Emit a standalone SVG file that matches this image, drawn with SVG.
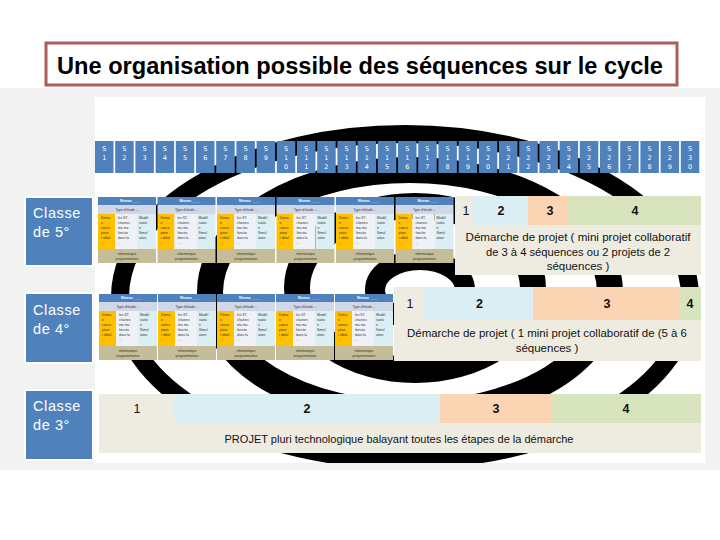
<svg xmlns="http://www.w3.org/2000/svg" xmlns:xlink="http://www.w3.org/1999/xlink" width="720" height="540" viewBox="0 0 720 540">
<style>
.sbox{fill:#4f81bd}
.stxt{fill:#fff;font-family:"DejaVu Sans",sans-serif;font-size:6.5px;text-anchor:middle}
.cls{fill:#4f81bd;stroke:#fff;stroke-width:2}
.clst{fill:#fff;font-family:"Liberation Sans",Arial,sans-serif;font-size:14.5px;letter-spacing:0.6px}
.tiny{font-family:"Liberation Sans",Arial,sans-serif;font-size:3.4px;fill:#333}
.tinyw{font-family:"Liberation Sans",Arial,sans-serif;font-size:3.6px;fill:#fff;font-weight:bold}
.num{font-family:"Liberation Sans",Arial,sans-serif;font-size:12.5px;fill:#111;text-anchor:middle}
.numb{font-family:"Liberation Sans",Arial,sans-serif;font-size:12.5px;fill:#111;text-anchor:middle;font-weight:bold}
.ptxt{font-family:"Liberation Sans",Arial,sans-serif;font-size:11.5px;fill:#111;text-anchor:middle}
.beige{fill:#eeece1}
.lblue{fill:#dbeef4}
.peach{fill:#fbd4b4}
.green{fill:#d7e4bd}
.ring{fill:none;stroke:#000}
</style>
<defs>
<clipPath id="panelClip"><rect x="95" y="97" width="610" height="366"/></clipPath>
<g id="unit">
<rect x="0" y="0" width="58" height="8" fill="#4f81bd"/>
<text class="tinyw" x="22" y="5.3">Niveau ____</text>
<rect x="0" y="8" width="58" height="9" fill="#d0d8e8"/>
<text class="tiny" x="29" y="13.8" text-anchor="middle">Type d'étude ...</text>
<rect x="0" y="17" width="17" height="35" fill="#ffc000"/>
<rect x="17" y="17" width="22" height="35" fill="#eef2f7"/>
<rect x="39" y="17" width="19" height="35" fill="#dbeef4"/>
<g class="tiny">
<text x="3" y="22">Dema</text><text x="3" y="27">e</text><text x="3" y="32">conce</text><text x="3" y="37">ption</text><text x="3" y="42">r idéal</text><text x="3" y="47">...</text>
<text x="20" y="22">les ST.</text><text x="20" y="27">chaines</text><text x="20" y="32">ma ma</text><text x="20" y="37">fonctio</text><text x="20" y="42">dans la</text><text x="20" y="47">... </text>
<text x="41" y="22">Modél</text><text x="41" y="27">isatio</text><text x="41" y="32">n</text><text x="41" y="37">Simul</text><text x="41" y="42">ation</text>
</g>
<rect x="0" y="52" width="58" height="14" fill="#c4bd97"/>
<text class="tiny" x="29" y="58" text-anchor="middle">informatique</text>
<text class="tiny" x="29" y="63" text-anchor="middle">programmation</text>
</g>
</defs>

<rect x="0" y="0" width="720" height="540" fill="#ffffff"/>
<rect x="0" y="88" width="720" height="382" fill="#f2f2f2"/>

<g id="title">
<rect x="46" y="43" width="631" height="42" fill="#ffffff" stroke="#a95f5c" stroke-width="3"/>
<text x="57" y="74" font-family="'Liberation Sans',Arial,sans-serif" font-size="23" font-weight="bold" fill="#000" textLength="606" lengthAdjust="spacingAndGlyphs">Une organisation possible des séquences sur le cycle</text>
</g>

<g id="panel">
<rect x="95" y="97" width="610" height="366" fill="#ffffff"/>
<g clip-path="url(#panelClip)">
<ellipse class="ring" cx="405" cy="297" rx="285" ry="163" stroke-width="18"/>
<ellipse class="ring" cx="410" cy="292" rx="200" ry="122" stroke-width="26"/>
<ellipse class="ring" cx="415" cy="288" rx="118" ry="82" stroke-width="26"/>
<ellipse class="ring" cx="420" cy="290" rx="45" ry="30" stroke-width="20"/>
</g>
</g>

<g id="sequences">
<rect class="sbox" x="95.0" y="141" width="18.5" height="32"/><text class="stxt" x="104.2" y="150.5">S</text><text class="stxt" x="104.2" y="159.5">1</text>
<rect class="sbox" x="115.2" y="141" width="18.5" height="32"/><text class="stxt" x="124.4" y="150.5">S</text><text class="stxt" x="124.4" y="159.5">2</text>
<rect class="sbox" x="135.4" y="141" width="18.5" height="32"/><text class="stxt" x="144.6" y="150.5">S</text><text class="stxt" x="144.6" y="159.5">3</text>
<rect class="sbox" x="155.6" y="141" width="18.5" height="32"/><text class="stxt" x="164.8" y="150.5">S</text><text class="stxt" x="164.8" y="159.5">4</text>
<rect class="sbox" x="175.8" y="141" width="18.5" height="32"/><text class="stxt" x="185.0" y="150.5">S</text><text class="stxt" x="185.0" y="159.5">5</text>
<rect class="sbox" x="196.0" y="141" width="18.5" height="32"/><text class="stxt" x="205.2" y="150.5">S</text><text class="stxt" x="205.2" y="159.5">6</text>
<rect class="sbox" x="216.2" y="141" width="18.5" height="32"/><text class="stxt" x="225.4" y="150.5">S</text><text class="stxt" x="225.4" y="159.5">7</text>
<rect class="sbox" x="236.4" y="141" width="18.5" height="32"/><text class="stxt" x="245.6" y="150.5">S</text><text class="stxt" x="245.6" y="159.5">8</text>
<rect class="sbox" x="256.6" y="141" width="18.5" height="32"/><text class="stxt" x="265.8" y="150.5">S</text><text class="stxt" x="265.8" y="159.5">9</text>
<rect class="sbox" x="276.8" y="141" width="18.5" height="32"/><text class="stxt" x="286.0" y="150.5">S</text><text class="stxt" x="286.0" y="159.5">1</text><text class="stxt" x="286.0" y="169">0</text>
<rect class="sbox" x="297.0" y="141" width="18.5" height="32"/><text class="stxt" x="306.2" y="150.5">S</text><text class="stxt" x="306.2" y="159.5">1</text><text class="stxt" x="306.2" y="169">1</text>
<rect class="sbox" x="317.2" y="141" width="18.5" height="32"/><text class="stxt" x="326.4" y="150.5">S</text><text class="stxt" x="326.4" y="159.5">1</text><text class="stxt" x="326.4" y="169">2</text>
<rect class="sbox" x="337.4" y="141" width="18.5" height="32"/><text class="stxt" x="346.6" y="150.5">S</text><text class="stxt" x="346.6" y="159.5">1</text><text class="stxt" x="346.6" y="169">3</text>
<rect class="sbox" x="357.6" y="141" width="18.5" height="32"/><text class="stxt" x="366.8" y="150.5">S</text><text class="stxt" x="366.8" y="159.5">1</text><text class="stxt" x="366.8" y="169">4</text>
<rect class="sbox" x="377.8" y="141" width="18.5" height="32"/><text class="stxt" x="387.0" y="150.5">S</text><text class="stxt" x="387.0" y="159.5">1</text><text class="stxt" x="387.0" y="169">5</text>
<rect class="sbox" x="398.0" y="141" width="18.5" height="32"/><text class="stxt" x="407.2" y="150.5">S</text><text class="stxt" x="407.2" y="159.5">1</text><text class="stxt" x="407.2" y="169">6</text>
<rect class="sbox" x="418.2" y="141" width="18.5" height="32"/><text class="stxt" x="427.4" y="150.5">S</text><text class="stxt" x="427.4" y="159.5">1</text><text class="stxt" x="427.4" y="169">7</text>
<rect class="sbox" x="438.4" y="141" width="18.5" height="32"/><text class="stxt" x="447.6" y="150.5">S</text><text class="stxt" x="447.6" y="159.5">1</text><text class="stxt" x="447.6" y="169">8</text>
<rect class="sbox" x="458.6" y="141" width="18.5" height="32"/><text class="stxt" x="467.8" y="150.5">S</text><text class="stxt" x="467.8" y="159.5">1</text><text class="stxt" x="467.8" y="169">9</text>
<rect class="sbox" x="478.8" y="141" width="18.5" height="32"/><text class="stxt" x="488.0" y="150.5">S</text><text class="stxt" x="488.0" y="159.5">2</text><text class="stxt" x="488.0" y="169">0</text>
<rect class="sbox" x="499.0" y="141" width="18.5" height="32"/><text class="stxt" x="508.2" y="150.5">S</text><text class="stxt" x="508.2" y="159.5">2</text><text class="stxt" x="508.2" y="169">1</text>
<rect class="sbox" x="519.2" y="141" width="18.5" height="32"/><text class="stxt" x="528.4" y="150.5">S</text><text class="stxt" x="528.4" y="159.5">2</text><text class="stxt" x="528.4" y="169">2</text>
<rect class="sbox" x="539.4" y="141" width="18.5" height="32"/><text class="stxt" x="548.6" y="150.5">S</text><text class="stxt" x="548.6" y="159.5">2</text><text class="stxt" x="548.6" y="169">3</text>
<rect class="sbox" x="559.6" y="141" width="18.5" height="32"/><text class="stxt" x="568.8" y="150.5">S</text><text class="stxt" x="568.8" y="159.5">2</text><text class="stxt" x="568.8" y="169">4</text>
<rect class="sbox" x="579.8" y="141" width="18.5" height="32"/><text class="stxt" x="589.0" y="150.5">S</text><text class="stxt" x="589.0" y="159.5">2</text><text class="stxt" x="589.0" y="169">5</text>
<rect class="sbox" x="600.0" y="141" width="18.5" height="32"/><text class="stxt" x="609.2" y="150.5">S</text><text class="stxt" x="609.2" y="159.5">2</text><text class="stxt" x="609.2" y="169">6</text>
<rect class="sbox" x="620.2" y="141" width="18.5" height="32"/><text class="stxt" x="629.4" y="150.5">S</text><text class="stxt" x="629.4" y="159.5">2</text><text class="stxt" x="629.4" y="169">7</text>
<rect class="sbox" x="640.4" y="141" width="18.5" height="32"/><text class="stxt" x="649.6" y="150.5">S</text><text class="stxt" x="649.6" y="159.5">2</text><text class="stxt" x="649.6" y="169">8</text>
<rect class="sbox" x="660.6" y="141" width="18.5" height="32"/><text class="stxt" x="669.8" y="150.5">S</text><text class="stxt" x="669.8" y="159.5">2</text><text class="stxt" x="669.8" y="169">9</text>
<rect class="sbox" x="680.8" y="141" width="18.5" height="32"/><text class="stxt" x="690.0" y="150.5">S</text><text class="stxt" x="690.0" y="159.5">3</text><text class="stxt" x="690.0" y="169">0</text>
</g>

<g id="label5">
<rect class="cls" x="25" y="197" width="68" height="69"/>
<text class="clst" x="33" y="218">Classe</text>
<text class="clst" x="33" y="237">de  5°</text>
</g>
<g id="label4">
<rect class="cls" x="25" y="293" width="68" height="70"/>
<text class="clst" x="33" y="315">Classe</text>
<text class="clst" x="33" y="334">de  4°</text>
</g>
<g id="label3">
<rect class="cls" x="25" y="390" width="68" height="70"/>
<text class="clst" x="33" y="411">Classe</text>
<text class="clst" x="33" y="430">de  3°</text>
</g>

<g id="tables5">
<use xlink:href="#unit" x="98" y="197"/>
<use xlink:href="#unit" x="157.5" y="197"/>
<use xlink:href="#unit" x="217" y="197"/>
<use xlink:href="#unit" x="276.5" y="197"/>
<use xlink:href="#unit" x="336" y="197"/>
<use xlink:href="#unit" x="395.5" y="197"/>
</g>

<g id="tables4">
<use xlink:href="#unit" x="99" y="294"/>
<use xlink:href="#unit" x="158" y="294"/>
<use xlink:href="#unit" x="217" y="294"/>
<use xlink:href="#unit" x="276" y="294"/>
<use xlink:href="#unit" x="335" y="294"/>
</g>

<g id="projet5">
<rect class="beige" x="455" y="196" width="246" height="79"/>
<rect class="lblue" x="473" y="196" width="55" height="29"/>
<rect class="peach" x="528" y="196" width="40" height="29"/>
<rect class="green" x="568" y="196" width="133" height="29"/>
<text class="num" x="466" y="215">1</text>
<text class="numb" x="501" y="215">2</text>
<text class="numb" x="550" y="215">3</text>
<text class="numb" x="635" y="215">4</text>
<text class="ptxt" x="578" y="241" textLength="225" lengthAdjust="spacingAndGlyphs">Démarche de projet  ( mini projet collaboratif</text>
<text class="ptxt" x="578" y="256" textLength="184" lengthAdjust="spacingAndGlyphs">de 3 à 4  séquences ou 2 projets de 2</text>
<text class="ptxt" x="578" y="270">séquences )</text>
</g>

<g id="projet4">
<rect class="beige" x="394" y="287" width="307" height="74"/>
<rect class="lblue" x="424" y="287" width="109" height="33"/>
<rect class="peach" x="533" y="287" width="147" height="33"/>
<rect class="green" x="680" y="287" width="21" height="33"/>
<text class="num" x="410" y="308">1</text>
<text class="numb" x="479.5" y="308">2</text>
<text class="numb" x="607" y="308">3</text>
<text class="numb" x="690" y="308">4</text>
<text class="ptxt" x="547" y="337" textLength="280" lengthAdjust="spacingAndGlyphs">Démarche de projet  ( 1 mini projet collaboratif de (5 à 6</text>
<text class="ptxt" x="547" y="352">séquences )</text>
</g>

<g id="projet3">
<rect class="beige" x="99" y="394" width="602" height="59"/>
<rect class="lblue" x="174" y="394" width="266" height="29"/>
<rect class="peach" x="440" y="394" width="112" height="29"/>
<rect class="green" x="552" y="394" width="149" height="29"/>
<text class="num" x="137" y="413">1</text>
<text class="numb" x="307" y="413">2</text>
<text class="numb" x="496" y="413">3</text>
<text class="numb" x="626" y="413">4</text>
<text class="ptxt" x="399" y="443" textLength="349" lengthAdjust="spacingAndGlyphs">PROJET pluri technologique balayant toutes les étapes de la démarche</text>
</g>
</svg>
